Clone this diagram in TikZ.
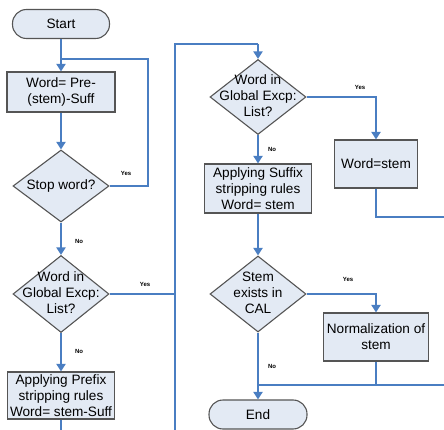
\documentclass[tikz,border=0pt]{standalone}
\usepackage{fontspec}
\setmainfont{Liberation Sans}
\usetikzlibrary{arrows.meta,shapes.geometric}
\definecolor{flow}{HTML}{4A7EC2}
\definecolor{boxfill}{HTML}{E3EAF4}
\definecolor{boxline}{HTML}{555555}
\tikzset{
  proc/.style={draw=boxline,fill=boxfill,line width=1.1pt,rectangle,inner sep=0pt,align=center,font=\fontsize{13.6}{16}\selectfont},
  term/.style={proc,rounded corners=14pt},
  dia/.style={draw=boxline,fill=boxfill,line width=1.1pt,diamond,inner sep=0pt},
  diatext/.style={align=center,inner sep=0pt,font=\fontsize{13.6}{16}\selectfont},
  flowline/.style={draw=flow,line width=2.2pt},
  flowarrow/.style={flowline,-{Triangle[length=7.5pt,width=9pt]}},
  yn/.style={font=\fontsize{6}{7}\bfseries\selectfont,inner sep=0pt}
}
\begin{document}
\begin{tikzpicture}[x=1pt,y=-1pt]
\useasboundingbox (0,0) rectangle (444,430);
% nodes
\node[term,minimum width=97pt,minimum height=29pt] (start) at (61,24) {Start};
\node[proc,minimum width=108pt,minimum height=40pt] (b1) at (61,92) {Word= Pre-\\(stem)-Suff};
\node[dia,minimum width=96pt,minimum height=72pt] (d1) at (61,186) {};
\node[diatext] (d1t) at (61,186) {Stop word?};
\node[dia,minimum width=96pt,minimum height=77pt] (d2) at (61,294) {};
\node[diatext] (d2t) at (61,293) {Word in\\Global Excp:\\List?};
\node[proc,minimum width=107pt,minimum height=47pt] (b2) at (61,395.5) {Applying Prefix\\stripping rules\\Word= stem-Suff};
\node[dia,minimum width=96pt,minimum height=75pt] (d3) at (258,97) {};
\node[diatext] (d3t) at (258,96) {Word in\\Global Excp:\\List?};
\node[proc,minimum width=107pt,minimum height=49pt] (b3) at (258,188.5) {Applying Suffix\\stripping rules\\Word= stem};
\node[proc,minimum width=83pt,minimum height=48pt] (b4) at (376,164) {Word=stem};
\node[dia,minimum width=96pt,minimum height=76pt] (d4) at (258,294) {};
\node[diatext] (d4t) at (258,293) {Stem\\exists in\\CAL};
\node[proc,minimum width=105pt,minimum height=48pt] (b5) at (376,337) {Normalization of\\stem};
\node[term,minimum width=98pt,minimum height=29pt] (end) at (258,414.5) {End};
% coordinates
\coordinate (j1) at (61,59);
\coordinate (loopr) at (148,59);
\coordinate (lb) at (61,430);
\coordinate (vb) at (175,430);
\coordinate (vt) at (175,44);
\coordinate (vtr) at (258,44);
\coordinate (re1) at (444,217);
\coordinate (re2) at (444,385);
\coordinate (jn) at (258,385);
% connectors
\draw[flowarrow] (start.south) -- (b1.north);
\draw[flowline] (d1.east) -| (loopr) -- (j1);
\draw[flowarrow] (b1.south) -- (d1.north);
\draw[flowarrow] (d1.south) -- (d2.north);
\draw[flowarrow] (d2.south) -- (b2.north);
\draw[flowline] (b2.south) -- (lb);
\draw[flowline] (d2.east) -- (d2.east -| vt);
\draw[flowline] (vb) -- (vt) -- (vtr);
\draw[flowarrow] (vtr) -- (d3.north);
\draw[flowarrow] (d3.east) -| (b4.north);
\draw[flowarrow] (d3.south) -- (b3.north);
\draw[flowline] (b4.south) |- (re1);
\draw[flowarrow] (b3.south) -- (d4.north);
\draw[flowarrow] (d4.east) -| (b5.north);
\draw[flowarrow] (d4.south) -- (end.north);
\draw[flowline] (b5.south) -- (b5.south |- re2);
\draw[flowline] (jn) -- (re2);
% labels
\node[yn] (y1) at (126,173) {Yes};
\node[yn] (n1) at (79,241) {No};
\node[yn] (y2) at (145,284) {Yes};
\node[yn] (n2) at (79,351) {No};
\node[yn] (y3) at (360,87) {Yes};
\node[yn] (n3) at (272,149) {No};
\node[yn] (y4) at (348,279) {Yes};
\node[yn] (n4) at (272,366) {No};
\end{tikzpicture}
\end{document}
